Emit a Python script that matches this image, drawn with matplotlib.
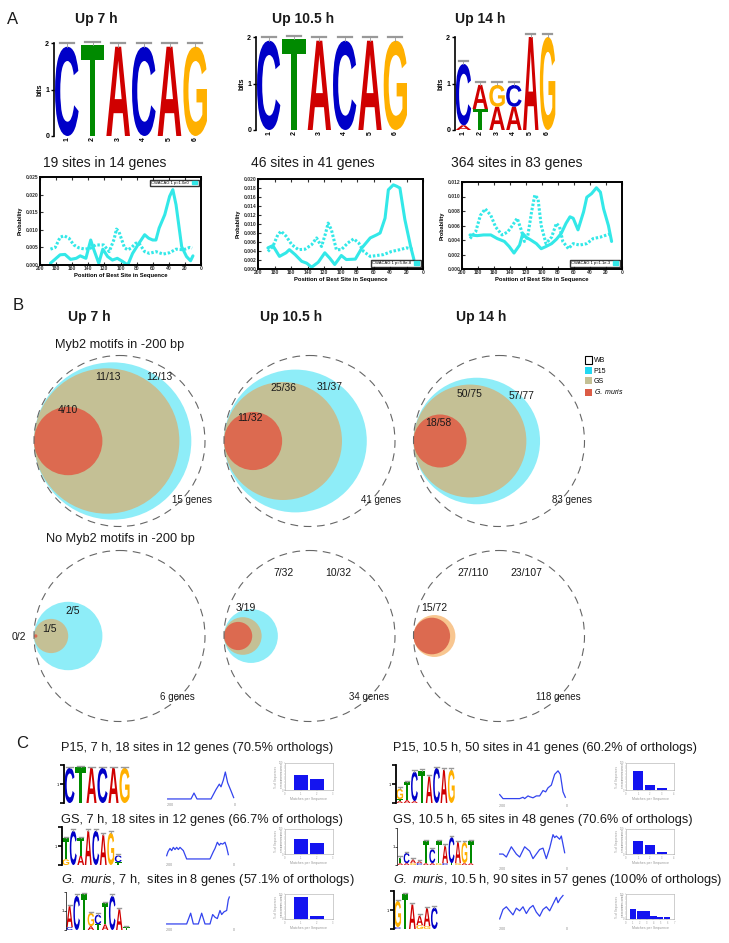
import matplotlib
matplotlib.use('Agg')
import matplotlib.pyplot as plt
from matplotlib.font_manager import FontProperties
from matplotlib.textpath import TextPath
from matplotlib.patches import PathPatch, Ellipse, Patch
from matplotlib.transforms import Affine2D

plt.rcParams['font.family'] = ['Liberation Sans', 'DejaVu Sans']
plt.rcParams['mathtext.fontset'] = 'custom'
plt.rcParams['mathtext.it'] = 'Liberation Sans:italic'
plt.rcParams['mathtext.rm'] = 'Liberation Sans'

W, H = 729, 943

# ---------------- data: panel A ----------------
up_titles = ['Up 7 h', 'Up 10.5 h', 'Up 14 h']
logo_up7 = [[('C', 1.92)], [('T', 1.95)], [('A', 1.92)], [('C', 1.92)], [('A', 1.92)], [('G', 1.92)]]
logo_up105 = [[('C', 1.92)], [('T', 1.95)], [('A', 1.92)], [('C', 1.92)], [('A', 1.92)], [('G', 1.92)]]
logo_up14 = [[('A', 0.1), ('C', 1.32)], [('T', 0.45), ('A', 0.52)], [('A', 0.5), ('G', 0.47)],
             [('A', 0.5), ('C', 0.47)], [('A', 2.0)], [('G', 2.0)]]

site_titles = ['19 sites in 14 genes', '46 sites in 41 genes', '364 sites in 83 genes']
legend_labels = ['CWACAG 1 p=1.0e0', 'CWACAG 1 p=5.8e-8', 'CWACAG 1 p=1.1e-3']
prob_max = [0.025, 0.020, 0.012]
prob_step = [0.005, 0.002, 0.002]

pos1_motif = [187, 175, 169, 162, 155, 150, 143, 137, 133, 127, 122, 116, 110, 104, 98, 91, 85, 77, 70, 65,
              60, 56, 52, 45, 39, 35, 31, 24, 18, 13, 10]
prob1_motif = [0.0005, 0.0029, 0.0030, 0.0016, 0.0019, 0.0026, 0.0019, 0.0071, 0.0043, 0.0005, 0.0045, 0.0024,
               0.0014, 0.0019, 0.0011, 0.0000, 0.0033, 0.0062, 0.0086, 0.0076, 0.0071, 0.0071, 0.0105, 0.0143,
               0.0195, 0.0214, 0.0171, 0.0052, 0.0024, 0.0012, 0.0026]
pos1_bg = [187, 181, 175, 170, 164, 158, 152, 144, 137, 131, 127, 121, 114, 108, 105, 102, 95, 91, 87, 81,
           77, 70, 64, 56, 47, 39, 31, 22, 14, 11]
prob1_bg = [0.0045, 0.0050, 0.0079, 0.0083, 0.0076, 0.0057, 0.0049, 0.0045, 0.0048, 0.0057, 0.0057, 0.0057,
            0.0038, 0.0073, 0.0102, 0.0095, 0.0049, 0.0043, 0.0048, 0.0062, 0.0062, 0.0038, 0.0033, 0.0038,
            0.0031, 0.0035, 0.0045, 0.0043, 0.0050, 0.0048]

pos2_motif = [188, 182, 174, 166, 162, 155, 147, 141, 135, 127, 119, 113, 107, 99, 93, 82, 74, 64, 56, 52,
              46, 42, 36, 32, 28, 22, 15, 11]
prob2_motif = [0.0047, 0.0052, 0.0028, 0.0036, 0.0043, 0.0032, 0.0017, 0.0013, 0.0004, 0.0015, 0.0036, 0.0024,
               0.0010, 0.0030, 0.0021, 0.0022, 0.0047, 0.0069, 0.0076, 0.0080, 0.0113, 0.0176, 0.0187, 0.0184,
               0.0180, 0.0110, 0.0050, 0.0021]
pos2_bg = [188, 182, 176, 172, 166, 159, 151, 143, 135, 129, 123, 118, 115, 111, 105, 99, 91, 84, 78, 72,
           64, 56, 48, 38, 28, 20, 11]
prob2_bg = [0.0039, 0.0050, 0.0076, 0.0084, 0.0073, 0.0054, 0.0043, 0.0044, 0.0054, 0.0069, 0.0050, 0.0080,
            0.0102, 0.0087, 0.0043, 0.0043, 0.0058, 0.0067, 0.0058, 0.0039, 0.0028, 0.0030, 0.0032, 0.0039,
            0.0043, 0.0047, 0.0043]

pos3_motif = [190, 181, 173, 164, 156, 147, 141, 135, 128, 124, 120, 114, 107, 101, 95, 88, 82, 76, 70, 65,
              61, 55, 48, 44, 38, 32, 27, 23, 17, 13]
prob3_motif = [0.0047, 0.0046, 0.0047, 0.0047, 0.0042, 0.0038, 0.0031, 0.0022, 0.0033, 0.0049, 0.0044, 0.0040,
               0.0035, 0.0028, 0.0031, 0.0035, 0.0041, 0.0049, 0.0063, 0.0072, 0.0070, 0.0054, 0.0079, 0.0099,
               0.0104, 0.0112, 0.0106, 0.0083, 0.0060, 0.0038]
pos3_bg = [190, 183, 177, 171, 164, 158, 150, 143, 137, 131, 126, 122, 118, 113, 109, 105, 101, 95, 88, 82,
           78, 74, 67, 61, 53, 44, 36, 27, 19, 13]
prob3_bg = [0.0042, 0.0051, 0.0074, 0.0083, 0.0074, 0.0058, 0.0047, 0.0051, 0.0060, 0.0070, 0.0054, 0.0038,
            0.0044, 0.0079, 0.0102, 0.0097, 0.0060, 0.0035, 0.0044, 0.0063, 0.0058, 0.0038, 0.0028, 0.0035,
            0.0033, 0.0035, 0.0042, 0.0044, 0.0047, 0.0049]

# ---------------- data: panel B ----------------
b_genes_motif = ['15 genes', '41 genes', '83 genes']
b_genes_nomotif = ['6 genes', '34 genes', '118 genes']
# circle radius relative to the WB circle
rel_p15_motif = [0.92, 0.835, 0.74]
rel_gs_motif = [0.85, 0.69, 0.66]
rel_gm_motif = [0.40, 0.34, 0.31]
rel_p15_nomotif = [0.40, 0.315, 0.245]
rel_gs_nomotif = [0.20, 0.22, 0.0]
rel_gm_nomotif = [0.02, 0.165, 0.214]
lab_p15_motif = ['12/13', '31/37', '57/77']
lab_gs_motif = ['11/13', '25/36', '50/75']
lab_gm_motif = ['4/10', '11/32', '18/58']
lab_p15_nomotif = ['2/5', '10/32', '23/107']
lab_gs_nomotif = ['1/5', '7/32', '27/110']
lab_gm_nomotif = ['0/2', '3/19', '15/72']

# ---------------- data: panel C ----------------
GM = r'$\it{G.}$ $\it{muris}$'
c_titles_left = ['P15, 7 h, 18 sites in 12 genes (70.5% orthologs)',
                 'GS, 7 h, 18 sites in 12 genes (66.7% of orthologs)',
                 GM + ', 7 h,  sites in 8 genes (57.1% of orthologs)']
c_titles_right = ['P15, 10.5 h, 50 sites in 41 genes (60.2% of orthologs)',
                  'GS, 10.5 h, 65 sites in 48 genes (70.6% of orthologs)',
                  GM + ', 10.5 h, 90 sites in 57 genes (100% of orthologs)']

c_logo_p15_7 = [[('C', 1.85)], [('T', 1.9)], [('A', 1.85)], [('C', 1.85)], [('A', 1.85)], [('G', 1.85)]]
c_logo_gs_7 = [[('G', 0.3), ('T', 1.1)], [('C', 1.8)], [('A', 0.5), ('T', 0.9)], [('A', 1.8)],
               [('C', 1.8)], [('A', 1.6)], [('G', 1.7)], [('T', 0.15), ('C', 0.35)]]
c_logo_gm_7 = [[('C', 0.15), ('A', 1.1)], [('C', 1.8)], [('T', 1.9)], [('A', 0.2), ('G', 0.7)],
               [('T', 0.3), ('C', 0.5)], [('A', 0.3), ('T', 1.1)], [('C', 1.8)], [('A', 1.1)], [('T', 0.15)]]
c_logo_p15_105 = [[('A', 0.1), ('T', 0.1), ('G', 0.55)], [('A', 0.15), ('T', 0.95)], [('A', 0.1), ('C', 1.55)],
                  [('T', 1.7)], [('A', 1.4)], [('C', 1.85)], [('A', 1.75)], [('G', 1.75)]]
c_logo_gs_105 = [[('A', 0.1), ('T', 0.3)], [('A', 0.1), ('C', 0.55)], [('G', 0.1), ('A', 0.2)], [('C', 0.1), ('A', 0.1)],
                 [('A', 0.1), ('T', 1.2)], [('A', 0.1), ('C', 0.75)], [('G', 0.1), ('T', 1.2)], [('C', 0.1), ('A', 0.95)],
                 [('T', 0.1), ('C', 1.4)], [('G', 0.1), ('A', 1.14)], [('A', 0.1), ('G', 1.14)], [('A', 0.1), ('T', 1.2)]]
c_logo_gm_105 = [[('C', 0.1), ('G', 1.38)], [('T', 1.85)], [('A', 1.3)], [('G', 0.2), ('A', 0.5)],
                 [('G', 0.15), ('A', 0.95)], [('C', 1.13)]]

c_pos_p15_7 = [-200, -150, -130, -121, -112, -70, -55, -45, -40, -33, -27, -20, -10, -2]
c_val_p15_7 = [0, 0, 0, 0.22, 0, 0, 0.35, 0.55, 0.45, 0.7, 1.0, 0.6, 0.3, 0.05]
c_pos_gs_7 = [-200, -196, -190, -185, -180, -175, -170, -165, -160, -150, -140, -100, -70, -60, -55, -48,
              -42, -38, -32, -25, -20, -15]
c_val_gs_7 = [0.12, 0.27, 0.39, 0.31, 0.43, 0.35, 0.43, 0.35, 0.43, 0.31, 0, 0, 0, 0.27, 0.39, 0.62,
              0.51, 0.58, 0.55, 0.62, 0.43, 0.16]
c_pos_gm_7 = [-200, -140, -128, -120, -105, -95, -85, -70, -62, -55, -48, -40, -35, -28, -20, -15, -12]
c_val_gm_7 = [0, 0, 0.4, 0, 0, 0.4, 0, 0, 0.35, 0.25, 0.2, 0.5, 0.35, 0.45, 0.5, 0.9, 1.0]
c_pos_p15_105 = [-200, -190, -180, -140, -130, -125, -115, -110, -100, -90, -80, -70, -62, -55, -45, -35,
                 -25, -18, -10, -3]
c_val_p15_105 = [0.2, 0.05, 0.05, 0.05, 0.1, 0.05, 0.15, 0.12, 0.08, 0.15, 0.15, 0.35, 0.3, 0.45, 0.55, 0.95,
                 1.08, 0.95, 0.3, 0.1]
c_pos_gs_105 = [-200, -190, -180, -165, -150, -140, -125, -110, -100, -90, -80, -70, -60, -50, -40, -35,
                -30, -20, -15, -5]
c_val_gs_105 = [0.33, 0.33, 0.22, 0.6, 0.33, 0.22, 0.6, 0.44, 0.16, 0.33, 0.5, 0.55, 0.16, 0.55, 1.05, 0.94,
                1.0, 0.88, 1.0, 0.38]
c_pos_gm_105 = [-200, -190, -180, -170, -160, -150, -140, -130, -120, -110, -100, -90, -80, -70, -60, -50,
                -40, -30, -25, -18, -10]
c_val_gm_105 = [0.15, 0.5, 0.6, 0.45, 0.3, 0.55, 0.45, 0.6, 0.35, 0.55, 0.65, 0.4, 0.25, 0.5, 0.6, 0.45,
                0.7, 0.95, 0.75, 0.9, 1.02]

c_bar_p15_7 = [56, 40]
c_bar_gs_7 = [60, 43]
c_bar_gm_7 = [88, 13]
c_bar_p15_105 = [69, 19, 7]
c_bar_gs_105 = [53, 37, 7]
c_bar_gm_105 = [42, 32, 32, 14, 8, 8]

# ---------------- helpers ----------------
BASE_COL = {'A': '#D00000', 'C': '#0000C8', 'G': '#FFB000', 'T': '#008A00'}
LOGO_FP = FontProperties(family='Liberation Sans', weight='bold')
CYAN = '#33E8E8'
TXT = '#1a1a1a'

fig = plt.figure(figsize=(W / 100, H / 100), dpi=100)
canvas = fig.add_axes([0, 0, 1, 1])
canvas.set_xlim(0, W)
canvas.set_ylim(H, 0)
canvas.axis('off')


def add_box(x, y, w, h):
    return fig.add_axes([x / W, 1 - (y + h) / H, w / W, h / H])


def draw_letter(ax, ch, x, y, w, h):
    tp = TextPath((0, 0), ch, size=1, prop=LOGO_FP)
    bb = tp.get_extents()
    tr = Affine2D().translate(-bb.x0, -bb.y0).scale(w / bb.width, h / bb.height).translate(x, y)
    ax.add_patch(PathPatch(tr.transform_path(tp), fc=BASE_COL[ch], ec='none', clip_on=False))


def draw_logo(ax, cols, cap_lw=1.2):
    for i, col in enumerate(cols):
        xc = i + 1
        base = 0.0
        for ch, h in col:
            draw_letter(ax, ch, xc - 0.46, base, 0.92, h)
            base += h
        ax.plot([xc, xc], [base, base + 0.07], color='#999999', lw=0.6, clip_on=False)
        ax.plot([xc - 0.28, xc + 0.28], [base + 0.07] * 2, color='#999999', lw=cap_lw, clip_on=False)
    ax.set_xlim(0.5, len(cols) + 0.5)
    ax.set_ylim(0, 2)
    for s in ['top', 'right', 'bottom']:
        ax.spines[s].set_visible(False)
    ax.patch.set_alpha(0)


# ---------------- panel A ----------------
canvas.text(13, 19, 'A', fontsize=12, ha='center', va='center', color=TXT)
logo_boxes = [(54, 43, 154, 93), (256, 37, 152, 93), (455, 37, 101, 93)]
heading_x = [96, 303, 480]
for title, cols, (x, y, w, h), hx in zip(up_titles, [logo_up7, logo_up105, logo_up14], logo_boxes, heading_x):
    canvas.text(hx, 19, title, fontsize=10, fontweight='bold', ha='center', va='center', color=TXT)
    ax = add_box(x, y, w, h)
    draw_logo(ax, cols, cap_lw=1.6)
    ax.spines['left'].set_linewidth(1.2)
    ax.set_yticks([0, 1, 2])
    ax.set_xticks(range(1, len(cols) + 1))
    ax.tick_params(axis='y', labelsize=5, length=2.5, width=1, pad=1)
    ax.tick_params(axis='x', labelsize=5, length=0, pad=1, labelrotation=90)
    for lab in ax.get_xticklabels() + ax.get_yticklabels():
        lab.set_fontweight('bold')
    ax.set_ylabel('bits', fontsize=5, fontweight='bold', labelpad=1)

line_boxes = [(40, 177, 161, 88), (258, 179, 165, 90), (462, 182, 160, 87)]
title_x = [105, 313, 517]
legend_locs = ['upper right', 'lower right', 'lower right']
series = [(pos1_motif, prob1_motif, pos1_bg, prob1_bg),
          (pos2_motif, prob2_motif, pos2_bg, prob2_bg),
          (pos3_motif, prob3_motif, pos3_bg, prob3_bg)]
for i, (x, y, w, h) in enumerate(line_boxes):
    canvas.text(title_x[i], 163, site_titles[i], fontsize=10, ha='center', va='center', color=TXT)
    ax = add_box(x, y, w, h)
    pm, vm, pb, vb = series[i]
    ax.plot(pm, vm, color=CYAN, lw=2.2, solid_capstyle='round')
    ax.plot(pb, vb, color=CYAN, lw=2.2, ls=(0, (0.8, 0.6)))
    ax.set_xlim(200, 0)
    ax.set_ylim(0, prob_max[i])
    ticks = [k * prob_step[i] for k in range(int(round(prob_max[i] / prob_step[i])) + 1)]
    ax.set_yticks(ticks)
    ax.set_yticklabels(['%.3f' % t for t in ticks])
    ax.set_xticks(range(200, -1, -20))
    ax.tick_params(labelsize=3.6, length=2, width=0.8, pad=1, top=True, direction='in', colors='#333333')
    for lab in ax.get_xticklabels() + ax.get_yticklabels():
        lab.set_fontweight('bold')
    for s in ax.spines.values():
        s.set_linewidth(1.4)
    ax.set_ylabel('Probability', fontsize=4, fontweight='bold', labelpad=2)
    ax.set_xlabel('Position of Best Site in Sequence', fontsize=4.2, fontweight='bold', labelpad=1.5)
    lg = ax.legend(handles=[Patch(color=CYAN)], labels=[legend_labels[i]], loc=legend_locs[i], fontsize=3,
                   frameon=True, fancybox=False, edgecolor='black', markerfirst=False,
                   handlelength=1.2, handleheight=0.9, borderpad=0.3, borderaxespad=0.6)
    lg.get_frame().set_linewidth(1.0)

# ---------------- panel B ----------------
canvas.text(18, 305, 'B', fontsize=12, ha='center', va='center', color=TXT)
C_P15, C_GS, C_GM, C_PEACH = '#8EEDF8', '#C4C095', '#DC6A50', '#F8C690'
R = 85.5
group_left = [34, 224, 413.5]
row_cy = [441, 636]
for hx, t in zip([89, 291, 481], up_titles):
    canvas.text(hx, 317, t, fontsize=10, fontweight='bold', ha='center', va='center', color=TXT)
canvas.text(120, 345, 'Myb2 motifs in -200 bp', fontsize=9.2, ha='center', va='center', color=TXT)
canvas.text(120, 539, 'No Myb2 motifs in -200 bp', fontsize=9.2, ha='center', va='center', color=TXT)

rows = [(rel_p15_motif, rel_gs_motif, rel_gm_motif), (rel_p15_nomotif, rel_gs_nomotif, rel_gm_nomotif)]
for r, (rp, rg, rm) in enumerate(rows):
    cy = row_cy[r]
    for g in range(3):
        x0 = group_left[g]
        outer_col = C_PEACH if (r == 1 and g == 2) else C_P15
        for rel, col in [(rp[g], outer_col), (rg[g], C_GS), (rm[g], C_GM)]:
            if rel > 0:
                canvas.add_patch(Ellipse((x0 + R * rel, cy), 2 * R * rel, 2 * R * rel, fc=col, ec='none'))
        canvas.add_patch(Ellipse((x0 + R, cy), 2 * R, 2 * R, fill=False, ec='#666666', lw=0.8,
                                 ls=(0, (7, 5))))

lab_fs = 7.5
# labels, row with motifs
for g, (xo, lab_p, lab_g, lab_m, genes) in enumerate(zip(group_left, lab_p15_motif, lab_gs_motif,
                                                        lab_gm_motif, b_genes_motif)):
    offs = [((74, -64), (125, -64), (34, -31)), ((59, -53), (106, -54), (26, -23)),
            ((56, -47), (108, -45), (25, -18))][g]
    for (dx, dy), s in zip(offs, [lab_g, lab_p, lab_m]):
        canvas.text(xo + dx, row_cy[0] + dy, s, fontsize=lab_fs, ha='center', va='center', color=TXT)
    canvas.text(xo + [158, 157, 159][g], row_cy[0] + 59, genes, fontsize=7, ha='center', va='center', color=TXT)
# labels, row without motifs
for g, (xo, lab_p, lab_g, lab_m, genes) in enumerate(zip(group_left, lab_p15_nomotif, lab_gs_nomotif,
                                                        lab_gm_nomotif, b_genes_nomotif)):
    offs = [((15, -7), (39, -25), (-15, 1)), ((60, -63), (114, -63), (22, -28)),
            ((60, -63), (113, -63), (21, -28))][g]
    for (dx, dy), s in zip(offs, [lab_g, lab_p, lab_m]):
        canvas.text(xo + dx, row_cy[1] + dy, s, fontsize=lab_fs, ha='center', va='center', color=TXT)
    canvas.text(xo + [143, 145, 145][g], row_cy[1] + 61, genes, fontsize=7, ha='center', va='center', color=TXT)

canvas.legend(handles=[Patch(fc='white', ec='black', lw=0.8), Patch(fc='#22D8F2'), Patch(fc=C_GS),
                       Patch(fc='#DC5C46')],
              labels=['WB', 'P15', 'GS', GM], loc='upper left',
              bbox_to_anchor=(582 / W, 1 - 353 / H), fontsize=5, frameon=False, handlelength=1.0,
              handleheight=1.2, handletextpad=0.2, labelspacing=0.35, borderpad=0)

# ---------------- panel C ----------------
canvas.text(22, 743, 'C', fontsize=12, ha='center', va='center', color=TXT)
title_y = [748, 820, 880]
for i in range(3):
    canvas.text(61, title_y[i], c_titles_left[i], fontsize=9.2, ha='left', va='center', color=TXT)
    canvas.text(393, title_y[i], c_titles_right[i], fontsize=9.2, ha='left', va='center', color=TXT)

c_logos = [(c_logo_p15_7, (64, 765, 66, 38), True), (c_logo_gs_7, (62, 827, 60, 38), True),
           (c_logo_gm_7, (66, 892, 64, 38), False), (c_logo_p15_105, (396, 765, 59, 38), True),
           (c_logo_gs_105, (397, 828, 77, 37), False), (c_logo_gm_105, (394, 891, 44, 38), True)]
for cols, (x, y, w, h), bracket in c_logos:
    ax = add_box(x, y, w, h)
    draw_logo(ax, cols, cap_lw=1.0)
    ax.spines['left'].set_linewidth(1.3 if bracket else 0.5)
    ax.set_xticks([])
    ax.set_yticks([0, 1, 2])
    ax.set_yticklabels(['', '1', ''])
    ax.tick_params(axis='y', labelsize=3, length=3 if bracket else 1.2, width=1.2 if bracket else 0.5, pad=0.5)

c_lines = [(c_pos_p15_7, c_val_p15_7, 167, 765), (c_pos_gs_7, c_val_gs_7, 166, 825),
           (c_pos_gm_7, c_val_gm_7, 166, 890), (c_pos_p15_105, c_val_p15_105, 499, 766),
           (c_pos_gs_105, c_val_gs_105, 499, 829), (c_pos_gm_105, c_val_gm_105, 499, 889)]
for pos, val, x, y in c_lines:
    ax = add_box(x, y, 70, 38)
    ax.plot(pos, val, color='#3344EE', lw=0.9)
    ax.set_xlim(-202, 8)
    ax.set_ylim(-0.15, 1.26)
    ax.axis('off')
    ax.axvline(8, color='#dddddd', lw=0.6)
    ax.text(0.05, 0.0, '-200', fontsize=2.5, color='#888888', transform=ax.transAxes, ha='center', va='top')
    ax.text(0.97, 0.0, '0', fontsize=2.5, color='#888888', transform=ax.transAxes, ha='center', va='top')

c_bars = [(c_bar_p15_7, 3, 285, 763, 27), (c_bar_gs_7, 3, 285, 829, 25), (c_bar_gm_7, 3, 285, 894, 25),
          (c_bar_p15_105, 4, 626, 763, 27), (c_bar_gs_105, 4, 626, 829, 25), (c_bar_gm_105, 7, 626, 894, 25)]
for vals, xmax, x, y, h in c_bars:
    ax = add_box(x, y, 48, h)
    ax.bar(range(1, len(vals) + 1), vals, width=0.9, color='#1414F0')
    ax.set_xlim(0, xmax)
    ax.set_ylim(0, 100)
    ax.set_xticks(range(0, xmax + 1))
    ax.set_yticks(range(0, 101, 10))
    ax.tick_params(labelsize=1.8, length=1, width=0.3, pad=0.5, colors='#999999')
    for s in ax.spines.values():
        s.set_linewidth(0.4)
        s.set_color('#aaaaaa')
    ax.set_xlabel('Matches per Sequence', fontsize=2.6, color='#999999', labelpad=0.5)
    ax.set_ylabel('% of Sequences', fontsize=2.2, color='#999999', labelpad=0.5)

fig.savefig('out.png', dpi=100)
